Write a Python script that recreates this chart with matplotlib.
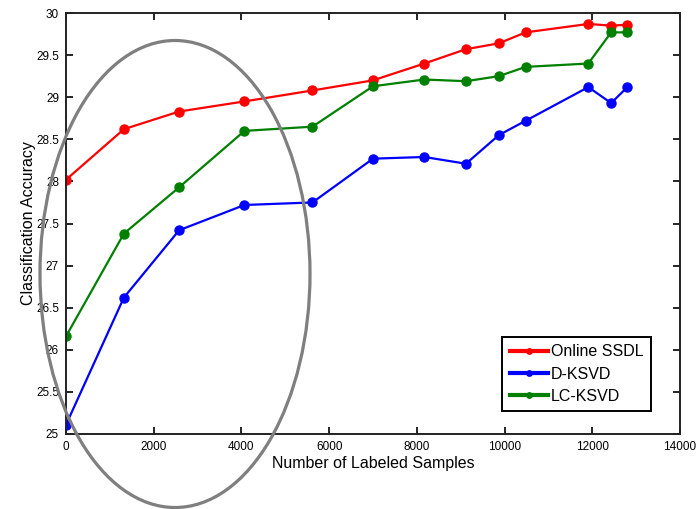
import matplotlib
matplotlib.use("Agg")
import matplotlib.pyplot as plt
from matplotlib.patches import Ellipse
from matplotlib.ticker import FormatStrFormatter, MultipleLocator

x_samples = [0, 1320, 2580, 4070, 5620, 7000, 8170, 9120, 9870, 10480, 11910, 12430, 12800]
online_ssdl = [28.02, 28.62, 28.83, 28.95, 29.08, 29.20, 29.40, 29.57, 29.64, 29.77, 29.87, 29.85, 29.86]
d_ksvd = [25.11, 26.62, 27.42, 27.72, 27.75, 28.27, 28.29, 28.21, 28.55, 28.72, 29.12, 28.93, 29.12]
lc_ksvd = [26.16, 27.38, 27.93, 28.60, 28.65, 29.13, 29.21, 29.19, 29.25, 29.36, 29.40, 29.77, 29.77]

W, H = 698, 509
fig = plt.figure(figsize=(W / 100, H / 100), dpi=100)
plt.rcParams['font.family'] = ['Liberation Sans', 'DejaVu Sans']
ax = fig.add_axes([66 / W, 1 - 434 / H, (680 - 66) / W, (434 - 13) / H])

ax.plot(x_samples, online_ssdl, '-o', color=(1, 0, 0), lw=1.6, ms=6.5, label='Online SSDL')
ax.plot(x_samples, d_ksvd, '-o', color=(0, 0, 1), lw=1.6, ms=6.5, label='D-KSVD')
ax.plot(x_samples, lc_ksvd, '-o', color=(0, 0.5, 0), lw=1.6, ms=6.5, label='LC-KSVD')

ax.set_xlim(0, 14000)
ax.set_ylim(25, 30)
ax.xaxis.set_major_locator(MultipleLocator(2000))
ax.yaxis.set_major_locator(MultipleLocator(0.5))
ax.yaxis.set_major_formatter(FormatStrFormatter('%g'))
ax.tick_params(direction='in', top=True, right=True, length=5, width=1.2,
               labelsize=8.5, pad=5, colors='black')
for s in ax.spines.values():
    s.set_linewidth(1.4)
    s.set_color('#222222')

ax.set_xlabel('Number of Labeled Samples', fontsize=11.5, labelpad=2)
ax.set_ylabel('Classification Accuracy', fontsize=11.5, labelpad=0)

leg = ax.legend(loc='lower right', bbox_to_anchor=((651 - 66) / 614, (434 - 411) / 421),
                borderaxespad=0, fancybox=False, framealpha=1, edgecolor='black',
                fontsize=11.5, handlelength=2.4, labelspacing=0.45, borderpad=0.45,
                handletextpad=0.2, markerscale=0.6)
leg.get_frame().set_linewidth(1.4)
for h in leg.get_lines():
    h.set_linewidth(3)

ell = Ellipse((175 / W, 1 - 274 / H), 270 / W, 467 / H, transform=fig.transFigure,
              fill=False, edgecolor='#7f7f7f', lw=2.3, zorder=10)
fig.patches.append(ell)

fig.savefig('out.png', dpi=100)
